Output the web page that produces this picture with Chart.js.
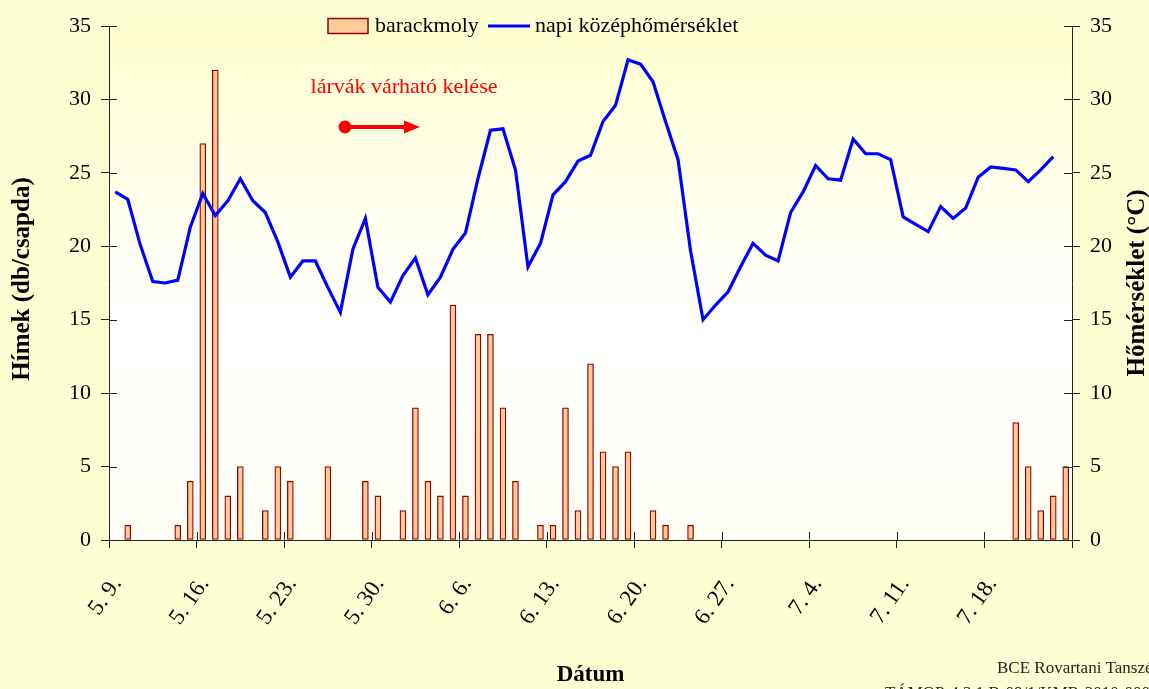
<!DOCTYPE html>
<html>
<head>
<meta charset="utf-8">
<script src="https://cdn.jsdelivr.net/npm/chart.js@4.4.1/dist/chart.umd.min.js"></script>
<style>
  html, body { margin: 0; padding: 0; background: #FFFFD4; }
  #c { display: block; }
</style>
</head>
<body>
<canvas id="c" width="1149" height="689"></canvas>
<script>
// ---- data ----
const days = [
  '5. 9.','5. 10.','5. 11.','5. 12.','5. 13.','5. 14.','5. 15.',
  '5. 16.','5. 17.','5. 18.','5. 19.','5. 20.','5. 21.','5. 22.',
  '5. 23.','5. 24.','5. 25.','5. 26.','5. 27.','5. 28.','5. 29.',
  '5. 30.','5. 31.','6. 1.','6. 2.','6. 3.','6. 4.','6. 5.',
  '6. 6.','6. 7.','6. 8.','6. 9.','6. 10.','6. 11.','6. 12.',
  '6. 13.','6. 14.','6. 15.','6. 16.','6. 17.','6. 18.','6. 19.',
  '6. 20.','6. 21.','6. 22.','6. 23.','6. 24.','6. 25.','6. 26.',
  '6. 27.','6. 28.','6. 29.','6. 30.','7. 1.','7. 2.','7. 3.',
  '7. 4.','7. 5.','7. 6.','7. 7.','7. 8.','7. 9.','7. 10.',
  '7. 11.','7. 12.','7. 13.','7. 14.','7. 15.','7. 16.','7. 17.',
  '7. 18.','7. 19.','7. 20.','7. 21.','7. 22.','7. 23.','7. 24.'
];
const barackmoly = [
  0, 1, 0, 0, 0, 1, 4,
  27, 32, 3, 5, 0, 2, 5,
  4, 0, 0, 5, 0, 0, 4,
  3, 0, 2, 9, 4, 3, 16,
  3, 14, 14, 9, 4, 0, 1,
  1, 9, 2, 12, 6, 5, 6,
  0, 2, 1, 0, 1, 0, 0,
  0, 0, 0, 0, 0, 0, 0,
  0, 0, 0, 0, 0, 0, 0,
  0, 0, 0, 0, 0, 0, 0,
  0, 0, 8, 5, 2, 3, 5
];
const homerseklet = [
  23.7, 23.2, 20.1, 17.6, 17.5, 17.7, 21.3,
  23.6, 22.1, 23.1, 24.6, 23.1, 22.3, 20.3,
  17.9, 19.0, 19.0, 17.2, 15.5, 19.8, 21.9,
  17.2, 16.2, 18.0, 19.2, 16.7, 17.9, 19.8,
  20.9, 24.6, 27.9, 28.0, 25.2, 18.6, 20.2,
  23.5, 24.4, 25.8, 26.2, 28.5, 29.6, 32.7,
  32.4, 31.2, 28.5, 25.9, 19.7, 15.0, 16.0,
  16.9, 18.6, 20.2, 19.4, 19.0, 22.3, 23.7,
  25.5, 24.6, 24.5, 27.3, 26.3, 26.3, 25.9,
  22.0, 21.5, 21.0, 22.7, 21.9, 22.6, 24.7,
  25.4, 25.3, 25.2, 24.4, 25.2, 26.1, null
];
const xTickLabels = ['5. 9.','5. 16.','5. 23.','5. 30.','6. 6.','6. 13.','6. 20.','6. 27.','7. 4.','7. 11.','7. 18.'];
const yTicks = [0, 5, 10, 15, 20, 25, 30, 35];
const seriesNames = ['barackmoly', 'napi középhőmérséklet'];
const axisTitles = { x: 'Dátum', left: 'Hímek (db/csapda)', right: 'Hőmérséklet (°C)' };
const annotationText = 'lárvák várható kelése';
const footerLines = ['BCE Rovartani Tanszék', 'TÁMOP-4.2.1.B-09/1/KMR-2010-0005'];

// ---- build library structures ----
const barPoints = days.map((d, i) => ({ x: i + 0.5, y: barackmoly[i] })).filter(p => p.y > 0);
const linePoints = days.map((d, i) => ({ x: i + 0.5, y: homerseklet[i] })).filter(p => p.y !== null);

const SERIF = '"Liberation Serif", "Times New Roman", serif';
const BAR_FILL = '#FFCC99', BAR_EDGE = '#990000', LINE_COL = '#0000FF', AXIS_COL = '#222222';

const decor = {
  id: 'decor',
  beforeDraw(chart) {
    const { ctx, chartArea: a } = chart;
    ctx.save();
    ctx.fillStyle = '#FFFFD4';
    ctx.fillRect(0, 0, chart.width, chart.height);
    const g = ctx.createLinearGradient(0, a.top, 0, a.bottom);
    g.addColorStop(0, '#FFFFD0');
    g.addColorStop(0.55, '#FFFFFF');
    g.addColorStop(1, '#FFFFF6');
    ctx.fillStyle = g;
    ctx.fillRect(a.left, a.top, a.right - a.left, a.bottom - a.top);
    ctx.restore();
  },
  afterDraw(chart) {
    const { ctx, chartArea: a, scales } = chart;
    ctx.save();
    // inner halves of the crossing tick marks
    ctx.strokeStyle = AXIS_COL; ctx.lineWidth = 1;
    ctx.beginPath();
    scales.y.ticks.forEach(t => {
      const yy = Math.round(scales.y.getPixelForValue(t.value)) + 0.5;
      ctx.moveTo(a.left, yy); ctx.lineTo(a.left + 8, yy);
      ctx.moveTo(a.right - 8, yy); ctx.lineTo(a.right, yy);
    });
    scales.x.ticks.forEach(t => {
      const xx = Math.round(scales.x.getPixelForValue(t.value)) + 0.5;
      ctx.moveTo(xx, a.bottom); ctx.lineTo(xx, a.bottom - 8);
    });
    ctx.stroke();

    // legend (labels taken from the datasets)
    const ds = chart.data.datasets;
    const barDs = ds.find(d => d.type === 'bar');
    const lineDs = ds.find(d => d.type === 'line');
    ctx.font = '22px ' + SERIF;
    ctx.textBaseline = 'middle';
    ctx.textAlign = 'left';
    const ly = 26;
    ctx.fillStyle = BAR_FILL; ctx.fillRect(328, ly - 7.5, 40, 15);
    ctx.strokeStyle = BAR_EDGE; ctx.lineWidth = 1.5; ctx.strokeRect(328, ly - 7.5, 40, 15);
    ctx.fillStyle = '#000';
    ctx.fillText(barDs.label, 375, ly);
    ctx.strokeStyle = LINE_COL; ctx.lineWidth = 3;
    ctx.beginPath(); ctx.moveTo(488, ly); ctx.lineTo(530, ly); ctx.stroke();
    ctx.fillText(lineDs.label, 535, ly);

    // annotation
    ctx.fillStyle = '#FF0000';
    ctx.textAlign = 'center';
    ctx.fillText(annotationText, 404, 87);
    ctx.strokeStyle = '#FF0000'; ctx.lineWidth = 4;
    ctx.beginPath(); ctx.moveTo(345, 127); ctx.lineTo(406, 127); ctx.stroke();
    ctx.beginPath(); ctx.arc(345, 127, 6.5, 0, Math.PI * 2); ctx.fill();
    ctx.beginPath(); ctx.moveTo(420, 127); ctx.lineTo(404, 120.5); ctx.lineTo(404, 133.5); ctx.closePath(); ctx.fill();

    // y-axis titles (both read bottom to top)
    ctx.fillStyle = '#000';
    ctx.font = 'bold 25px ' + SERIF;
    ctx.textAlign = 'center';
    ctx.textBaseline = 'middle';
    ctx.save(); ctx.translate(23, 279); ctx.rotate(-Math.PI / 2); ctx.fillText(axisTitles.left, 0, 0); ctx.restore();
    ctx.save(); ctx.translate(1138, 283); ctx.rotate(-Math.PI / 2); ctx.fillText(axisTitles.right, 0, 0); ctx.restore();

    // footer
    ctx.font = '17px ' + SERIF;
    ctx.fillStyle = '#222';
    ctx.textAlign = 'left';
    ctx.textBaseline = 'alphabetic';
    ctx.fillText(footerLines[0], 997, 673);
    ctx.fillText(footerLines[1], 885, 698);
    ctx.restore();
  }
};

const yAxisCommon = {
  min: 0, max: 35,
  afterBuildTicks: s => { s.ticks = yTicks.map(v => ({ value: v })); },
  ticks: { font: { family: SERIF, size: 22 }, color: '#000', padding: 10 },
  grid: { drawOnChartArea: false, tickLength: 8, color: AXIS_COL, tickColor: AXIS_COL },
  border: { color: AXIS_COL, width: 1 }
};

new Chart(document.getElementById('c'), {
  type: 'bar',
  data: {
    datasets: [
      {
        type: 'line', label: seriesNames[1], data: linePoints, yAxisID: 'y1',
        borderColor: LINE_COL, borderWidth: 3.2, pointRadius: 0, tension: 0, fill: false, order: 0
      },
      {
        type: 'bar', label: seriesNames[0], data: barPoints, yAxisID: 'y',
        backgroundColor: BAR_FILL, borderColor: BAR_EDGE, borderWidth: 1.3,
        barThickness: 6, borderSkipped: false, order: 1
      }
    ]
  },
  plugins: [decor],
  options: {
    responsive: false, animation: false, devicePixelRatio: 1,
    layout: { padding: { top: 26, left: 0, right: 0, bottom: 0 } },
    plugins: { legend: { display: false }, tooltip: { enabled: false } },
    scales: {
      x: {
        type: 'linear', position: 'bottom', min: 0, max: days.length, offset: false,
        afterBuildTicks: s => {
          const t = [];
          for (let v = 0; v <= days.length; v += 7) t.push({ value: v });
          s.ticks = t;
        },
        afterFit: s => { s.height = 149; },
        ticks: {
          autoSkip: false, maxRotation: 55, minRotation: 55,
          font: { family: SERIF, size: 23 }, color: '#000', padding: 24, labelOffset: 8,
          callback: v => xTickLabels[v / 7] || ''
        },
        grid: { drawOnChartArea: false, offset: false, tickLength: 8, color: AXIS_COL, tickColor: AXIS_COL },
        border: { color: AXIS_COL, width: 1 },
        title: { display: true, text: axisTitles.x, font: { family: SERIF, size: 23, weight: 'bold' }, color: '#000', padding: { top: 0, bottom: 0 } }
      },
      y: Object.assign({}, yAxisCommon, { position: 'left', afterFit: s => { s.width = 109; } }),
      y1: Object.assign({}, yAxisCommon, { position: 'right', afterFit: s => { s.width = 77; } })
    }
  }
});
</script>
</body>
</html>
